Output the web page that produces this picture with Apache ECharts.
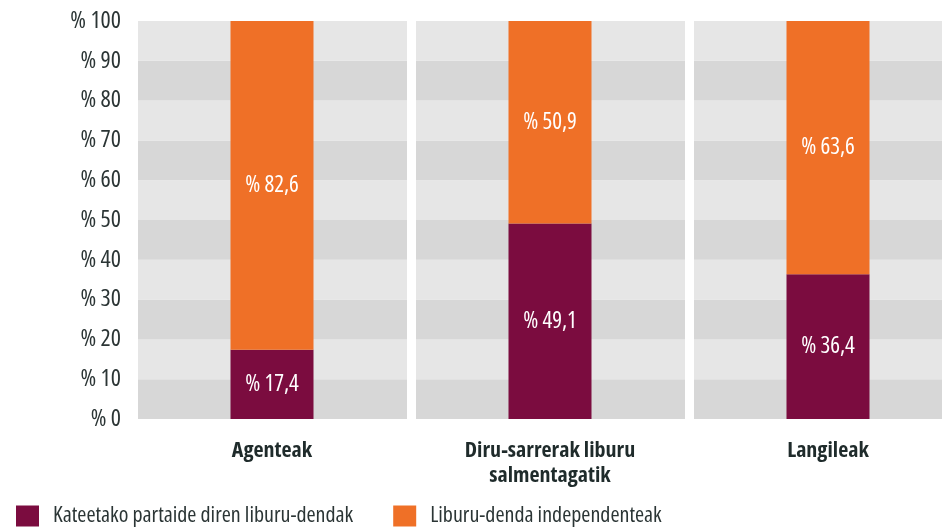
<!DOCTYPE html>
<html>
<head>
<meta charset="utf-8">
<script src="https://cdn.jsdelivr.net/npm/echarts@6/dist/echarts.min.js"></script>
<style>
html,body{margin:0;padding:0;background:#fff;overflow:hidden;width:942px;height:528px;}
#chart{width:967px;height:528px;}
</style>
</head>
<body>
<div id="chart"></div>
<script>
var categories = ['Agenteak', 'Diru-sarrerak liburu\nsalmentagatik', 'Langileak'];
var seriesNames = ['Kateetako partaide diren liburu-dendak', 'Liburu-denda independenteak'];
var chainValues = [17.4, 49.1, 36.4];
var independentValues = [82.6, 50.9, 63.6];
var yTicks = [0, 10, 20, 30, 40, 50, 60, 70, 80, 90, 100];

var FONT = "'Open Sans', sans-serif";
var STRETCH = 'condensed';
var chart = echarts.init(document.getElementById('chart'), null, {renderer: 'canvas'});

function fmt(v) { return '% ' + String(v).replace('.', ','); }

var labelStyle = {
  show: true,
  position: 'inside',
  color: '#ffffff',
  fontFamily: FONT,
  fontStyle: STRETCH,
  fontSize: 23,
  formatter: function (p) { return fmt(p.value); }
};

chart.setOption({
  animation: false,
  textStyle: {fontFamily: FONT},
  grid: {left: 133, right: 0, top: 21, bottom: 109, containLabel: false},
  legend: {
    left: 16,
    bottom: 1,
    padding: 0,
    itemWidth: 23,
    itemHeight: 21,
    itemGap: 40,
    icon: 'rect',
    textStyle: {fontFamily: FONT, fontStyle: STRETCH, fontSize: 22, color: '#2b3535', padding: [0, 0, 0, 9]},
    data: seriesNames
  },
  xAxis: {
    type: 'category',
    data: categories,
    axisLine: {show: false},
    axisTick: {show: false},
    splitLine: {show: true, interval: 0, lineStyle: {color: '#ffffff', width: 9}},
    axisLabel: {
      interval: 0,
      margin: 19,
      fontFamily: FONT,
      fontStyle: STRETCH,
      fontSize: 22,
      fontWeight: 'bold',
      color: '#1f2b2b',
      lineHeight: 25
    }
  },
  yAxis: {
    type: 'value',
    min: yTicks[0],
    max: yTicks[yTicks.length - 1],
    interval: 10,
    axisLine: {show: false},
    axisTick: {show: false},
    splitLine: {show: false},
    splitArea: {show: true, areaStyle: {color: ['#d7d7d7', '#e6e6e6']}},
    axisLabel: {
      margin: 12,
      fontFamily: FONT,
      fontStyle: STRETCH,
      fontSize: 24,
      color: '#2b3535',
      formatter: function (v) { return '% ' + v; }
    }
  },
  series: [
    {
      name: seriesNames[0],
      type: 'bar',
      stack: 'total',
      barWidth: 83,
      itemStyle: {color: '#7b0c3f'},
      label: labelStyle,
      data: chainValues
    },
    {
      name: seriesNames[1],
      type: 'bar',
      stack: 'total',
      barWidth: 83,
      itemStyle: {color: '#ef7027'},
      label: labelStyle,
      data: independentValues
    }
  ]
});
</script>
</body>
</html>
